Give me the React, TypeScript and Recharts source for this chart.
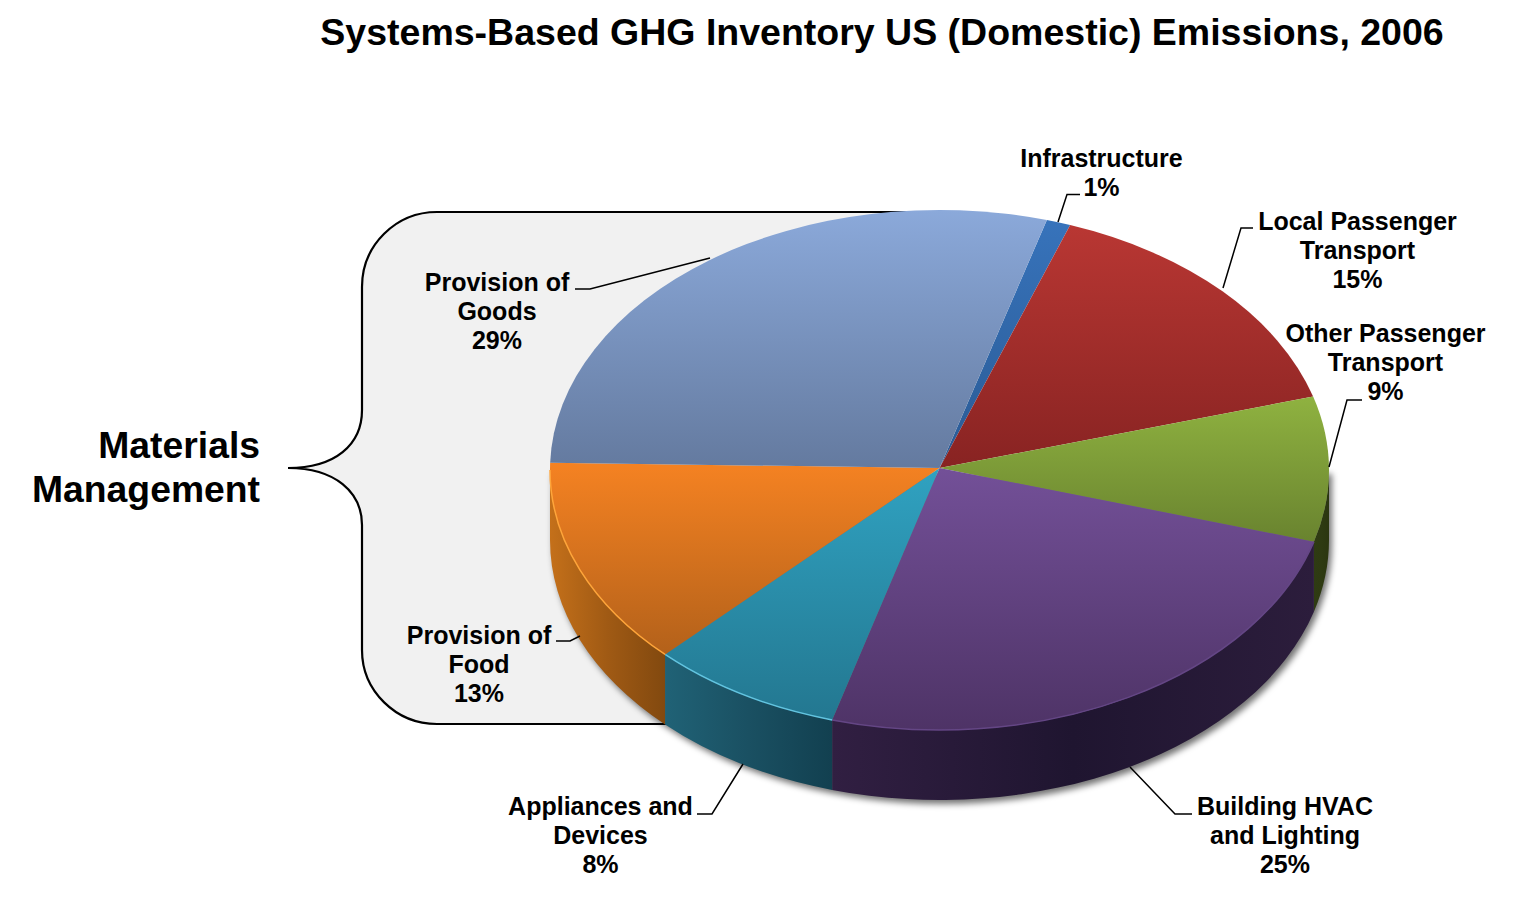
import { PieChart, Pie, Customized } from "recharts";

const categories = ["Infrastructure", "Local Passenger Transport", "Other Passenger Transport", "Building HVAC and Lighting", "Appliances and Devices", "Provision of Food", "Provision of Goods"];
const shares = [1, 15, 9, 25, 8, 13, 29];
const labelLines = [["Infrastructure"], ["Local Passenger", "Transport"], ["Other Passenger", "Transport"], ["Building HVAC", "and Lighting"], ["Appliances and", "Devices"], ["Provision of", "Food"], ["Provision of", "Goods"]];

const topColors = [["#3773bb", "#2a5a94"], ["#b93733", "#882322"], ["#8fb240", "#69832f"], ["#735098", "#4e3366"], ["#30a2c1", "#237790"], ["#f58222", "#b3611a"], ["#8ba9da", "#647a9f"]];
const wallColors = [["#1d3a5f", "#1d3a5f", "#1d3a5f"], ["#4a1513", "#4a1513", "#4a1513"], ["#2f3b13", "#2e3a12", "#2b3610"], ["#311f42", "#1f1530", "#2c1d3c"], ["#206276", "#1a5062", "#124050"], ["#c4701a", "#a05a14", "#82490f"], ["#5a6f90", "#5a6f90", "#5a6f90"]];
const rimColors = ["none", "none", "none", "#644685", "#62c4e0", "#ffa53a", "none"];

const labelCenters = [1101.5, 1357.5, 1385.5, 1285, 600.5, 479, 497];
const labelBaselines = [166.5, 229.5, 341.5, 814.5, 814.5, 643.5, 290.5];
const leaders = [
  "1080,194.5 1067,194.5 1058,222",
  "1253,228 1241,228 1223,288",
  "1362,400 1347,400 1329,467",
  "1192,814 1175,814 1130,767",
  "697,814 712,814 743,764",
  "556,641 570,641 580,636",
  "575,289 590,289 710,258",
];

const data = categories.map((name, i) => ({ name, value: shares[i] }));

const CX = 939.5;
const APEX_Y = 468;
const CY = 470; // the rim ellipse sits a little below the slice apex
const RX = 389.5;
const RY = 260;
const DEPTH = 70;
const FONT = "'Liberation Sans', Arial, sans-serif";

const pt = (deg: number, dy = 0) => {
  const a = (deg * Math.PI) / 180;
  return `${CX + RX * Math.cos(a)},${CY + dy - RY * Math.sin(a)}`;
};

function TopSlice(props: any) {
  const { startAngle, endAngle, index } = props;
  const large = Math.abs(startAngle - endAngle) > 180 ? 1 : 0;
  const d = `M${CX},${APEX_Y} L${pt(startAngle)} A${RX},${RY} 0 ${large} 1 ${pt(endAngle)} Z`;
  // highlight along the front edge only
  const from = Math.min(startAngle, 0);
  const to = Math.max(endAngle, -180);
  return (
    <g>
      <path d={d} fill={`url(#top${index})`} stroke="none" />
      {rimColors[index] !== "none" && from > to && (
        <path d={`M${pt(from)} A${RX},${RY} 0 0 1 ${pt(to)}`} fill="none" stroke={rimColors[index]} strokeWidth={1.5} />
      )}
    </g>
  );
}

function WallSlice(props: any) {
  const { startAngle, endAngle, index } = props;
  const from = Math.min(startAngle, 0);
  const to = Math.max(endAngle, -180);
  if (from <= to) return <g />;
  const d = `M${pt(from)} A${RX},${RY} 0 0 1 ${pt(to)} L${pt(to, DEPTH)} A${RX},${RY} 0 0 0 ${pt(from, DEPTH)} Z`;
  return <path d={d} fill={`url(#wall${index})`} stroke="none" />;
}

function SliceLabel(props: any) {
  const { index, value } = props;
  const x = labelCenters[index];
  const y = labelBaselines[index];
  return (
    <g>
      <polyline points={leaders[index]} fill="none" stroke="#000" strokeWidth={1.5} />
      <text x={x} y={y} textAnchor="middle" fontFamily={FONT} fontWeight="bold" fontSize={25} fill="#000">
        {[...labelLines[index], `${value}%`].map((t, i) => (
          <tspan key={i} x={x} dy={i === 0 ? 0 : 29}>{t}</tspan>
        ))}
      </text>
    </g>
  );
}

function Backdrop() {
  const brace = "M940,212 L437,212 C396,212 362,245 362,287 L362,410 C362,445 335,468 288,468 C335,468 362,492 362,525 L362,650 C362,691 396,724 437,724 L690,724";
  return (
    <g>
      <defs>
        {topColors.map((c, i) => (
          <linearGradient key={i} id={`top${i}`} x1="0" y1="0" x2="0" y2="1">
            <stop offset="0" stopColor={c[0]} />
            <stop offset="1" stopColor={c[1]} />
          </linearGradient>
        ))}
        {wallColors.map((c, i) => (
          <linearGradient key={i} id={`wall${i}`} x1="0" y1="0" x2="1" y2="0">
            <stop offset="0" stopColor={c[0]} />
            <stop offset="0.5" stopColor={c[1]} />
            <stop offset="1" stopColor={c[2]} />
          </linearGradient>
        ))}
        <filter id="pieShadow" x="-10%" y="-10%" width="120%" height="120%">
          <feGaussianBlur stdDeviation="3" />
        </filter>
      </defs>
      <path d={`${brace} L940,724 Z`} fill="#f1f1f1" stroke="none" />
      <path d={brace} fill="none" stroke="#000" strokeWidth={2.2} />
      <path
        d={`M${pt(180)} L${pt(180, DEPTH)} A${RX},${RY} 0 0 0 ${pt(0, DEPTH)} L${pt(0)} Z`}
        transform="translate(3,4)"
        fill="#000"
        fillOpacity={0.55}
        filter="url(#pieShadow)"
      />
      <text x={882} y={45} textAnchor="middle" fontFamily={FONT} fontWeight="bold" fontSize={37.5} fill="#000">
        Systems-Based GHG Inventory US (Domestic) Emissions, 2006
      </text>
      <text x={260} y={458} textAnchor="end" fontFamily={FONT} fontWeight="bold" fontSize={37.3} fill="#000">Materials</text>
      <text x={260} y={502} textAnchor="end" fontFamily={FONT} fontWeight="bold" fontSize={37.3} fill="#000">Management</text>
    </g>
  );
}

export default function App() {
  return (
    <div style={{ position: "absolute", left: 0, top: 0, width: 1513, height: 900, background: "#fff" }}>
      <PieChart width={1513} height={900} margin={{ top: 0, right: 0, bottom: 0, left: 0 }}>
        <Customized component={Backdrop} />
        <Pie
          data={data}
          dataKey="value"
          nameKey="name"
          cx={CX}
          cy={CY}
          outerRadius={RX}
          startAngle={74}
          endAngle={-286}
          stroke="none"
          shape={WallSlice}
          isAnimationActive={false}
        />
        <Pie
          data={data}
          dataKey="value"
          nameKey="name"
          cx={CX}
          cy={CY}
          outerRadius={RX}
          startAngle={74}
          endAngle={-286}
          stroke="none"
          shape={TopSlice}
          label={SliceLabel}
          labelLine={false}
          isAnimationActive={false}
        />
      </PieChart>
    </div>
  );
}
